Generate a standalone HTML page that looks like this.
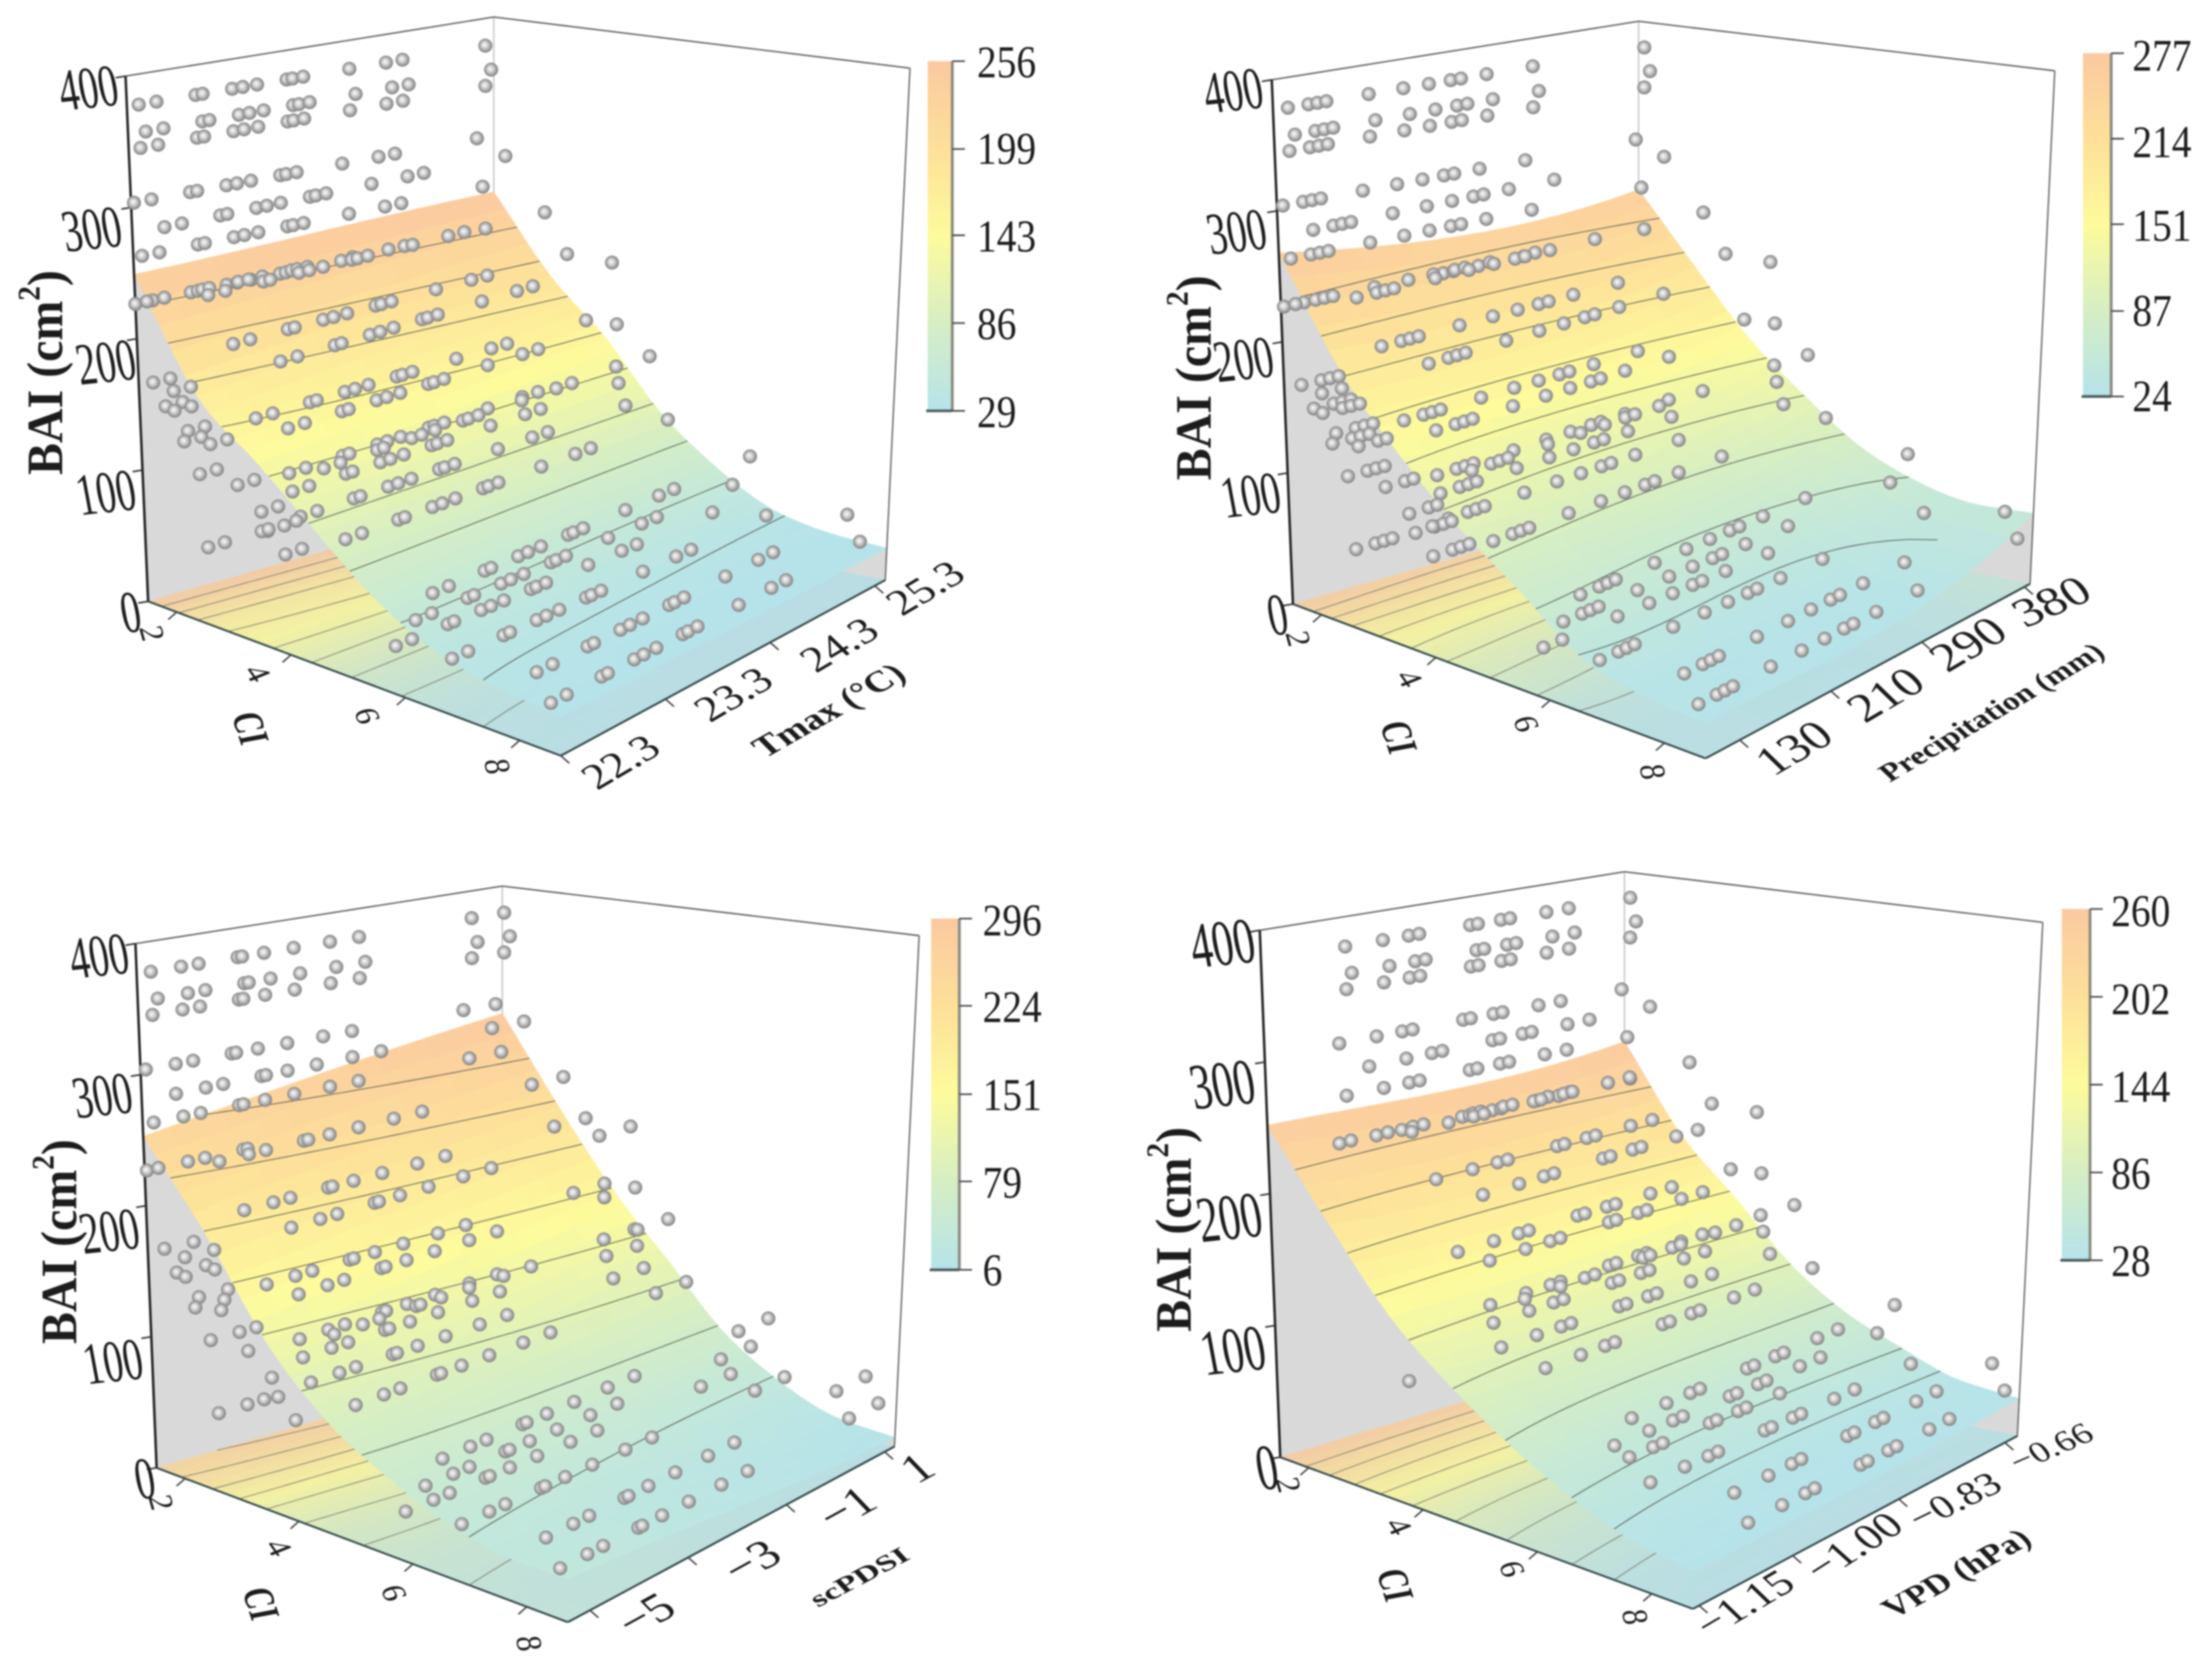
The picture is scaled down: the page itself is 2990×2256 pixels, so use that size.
<!DOCTYPE html>
<html lang="en">
<head>
<meta charset="utf-8">
<title>BAI response surfaces against CI and climate variables</title>
<style>
html,body{margin:0;padding:0;background:#fff;}
svg{display:block;filter:blur(1.1px);}
text{font-family:"Liberation Serif",serif;fill:#1c1c1c;text-anchor:middle;dominant-baseline:central;}
.z{font-size:112px;}
.cb{font-size:86px;text-anchor:start;}
.ct{font-size:64px;}
.ci{font-size:68px;font-weight:bold;}
.xt{font-size:68px;}
.bai{font-size:72px;font-weight:bold;}
.xtitle{font-weight:bold;}
</style>
</head>
<body>
<svg id="figure" xmlns="http://www.w3.org/2000/svg" width="2990" height="2256" viewBox="0 0 2990 2256">
<defs>
<radialGradient id="ball" cx="0.5" cy="0.5" r="0.55" fx="0.42" fy="0.42">
<stop offset="0" stop-color="#fbfbfb"/><stop offset="0.35" stop-color="#d8d8d8"/><stop offset="0.8" stop-color="#909090"/><stop offset="1" stop-color="#7c7c7c"/>
</radialGradient>
<linearGradient id="cbar" x1="0" y1="1" x2="0" y2="0">
<stop offset="0" stop-color="#b6e3ea"/><stop offset="0.25" stop-color="#d6eec4"/><stop offset="0.5" stop-color="#fdfb9c"/><stop offset="0.75" stop-color="#fde09a"/><stop offset="1" stop-color="#fbc9a0"/>
</linearGradient>
</defs>

<g transform="translate(0,0) scale(0.9535,0.7194)">
<g id="plot0"></g>
<text class="z" transform="translate(125,165) rotate(-8) scale(0.5,1)">400</text>
<text class="z" transform="translate(130,430) rotate(-8) scale(0.5,1)">300</text>
<text class="z" transform="translate(150,680) rotate(-8) scale(0.5,1)">200</text>
<text class="z" transform="translate(150,925) rotate(-8) scale(0.5,1)">100</text>
<text class="z" transform="translate(185,1150) rotate(-8) scale(0.5,1)">0</text>
<text class="bai" transform="translate(65,700) rotate(-90) scale(1.25,1)">BAI (cm<tspan font-size="44" dy="-24">2</tspan><tspan dy="24">)</tspan></text>
<text class="ct" transform="translate(215,1190) rotate(78) scale(0.9,0.75)">2</text>
<text class="ct" transform="translate(365,1265) rotate(62) scale(0.9,0.75)">4</text>
<text class="ct" transform="translate(520,1345) rotate(72) scale(0.9,0.75)">6</text>
<text class="ct" transform="translate(705,1440) rotate(82) scale(0.9,0.8)">8</text>
<text class="ci" transform="translate(355,1368) rotate(76) scale(0.8,0.9)">CI</text>
<text class="xt" transform="translate(880,1432) rotate(-38)">22.3</text>
<text class="xt" transform="translate(1040,1305) rotate(-38)">23.3</text>
<text class="xt" transform="translate(1190,1212) rotate(-38)">24.3</text>
<text class="xt" transform="translate(1312,1105) rotate(-38)">25.3</text>
<text class="xtitle" font-size="56" transform="translate(1175,1335) rotate(-37)">Tmax (°C)</text>
<text class="cb" transform="translate(1385,118) scale(0.65,1)">256</text>
<text class="cb" transform="translate(1385,280) scale(0.65,1)">199</text>
<text class="cb" transform="translate(1385,445) scale(0.65,1)">143</text>
<text class="cb" transform="translate(1385,610) scale(0.65,1)">86</text>
<text class="cb" transform="translate(1385,775) scale(0.65,1)">29</text>
</g>

<g transform="translate(1495,0) scale(0.9535,0.7194)">
<g id="plot1"></g>
<text class="z" transform="translate(180,170) rotate(-8) scale(0.5,1)">400</text>
<text class="z" transform="translate(185,435) rotate(-8) scale(0.5,1)">300</text>
<text class="z" transform="translate(195,675) rotate(-8) scale(0.5,1)">200</text>
<text class="z" transform="translate(205,930) rotate(-8) scale(0.5,1)">100</text>
<text class="z" transform="translate(243,1155) rotate(-8) scale(0.5,1)">0</text>
<text class="bai" transform="translate(125,710) rotate(-90) scale(1.25,1)">BAI (cm<tspan font-size="44" dy="-24">2</tspan><tspan dy="24">)</tspan></text>
<text class="ct" transform="translate(272,1200) rotate(78) scale(0.9,0.75)">2</text>
<text class="ct" transform="translate(430,1275) rotate(62) scale(0.9,0.75)">4</text>
<text class="ct" transform="translate(595,1360) rotate(72) scale(0.9,0.75)">6</text>
<text class="ct" transform="translate(775,1450) rotate(82) scale(0.9,0.8)">8</text>
<text class="ci" transform="translate(415,1385) rotate(76) scale(0.8,0.9)">CI</text>
<text class="xt" font-size="76" style="font-size:76px" transform="translate(975,1405) rotate(-38)">130</text>
<text class="xt" style="font-size:76px" transform="translate(1105,1305) rotate(-38)">210</text>
<text class="xt" style="font-size:76px" transform="translate(1222,1210) rotate(-38)">290</text>
<text class="xt" style="font-size:76px" transform="translate(1340,1130) rotate(-30)">380</text>
<text class="xtitle" font-size="48" transform="translate(1255,1338) rotate(-38)">Precipitation (mm)</text>
<text class="cb" transform="translate(1455,105) scale(0.65,1)">277</text>
<text class="cb" transform="translate(1455,268) scale(0.65,1)">214</text>
<text class="cb" transform="translate(1455,425) scale(0.65,1)">151</text>
<text class="cb" transform="translate(1455,585) scale(0.65,1)">87</text>
<text class="cb" transform="translate(1455,745) scale(0.65,1)">24</text>
</g>

<g transform="translate(0,1128) scale(0.9535,0.7194)">
<g id="plot2"></g>
<text class="z" transform="translate(140,228) rotate(-8) scale(0.5,1)">400</text>
<text class="z" transform="translate(145,490) rotate(-8) scale(0.5,1)">300</text>
<text class="z" transform="translate(155,745) rotate(-8) scale(0.5,1)">200</text>
<text class="z" transform="translate(160,990) rotate(-8) scale(0.5,1)">100</text>
<text class="z" transform="translate(205,1210) rotate(-8) scale(0.5,1)">0</text>
<text class="bai" transform="translate(85,765) rotate(-90) scale(1.25,1)">BAI (cm<tspan font-size="44" dy="-24">2</tspan><tspan dy="24">)</tspan></text>
<text class="ct" transform="translate(228,1255) rotate(78) scale(0.9,0.75)">2</text>
<text class="ct" transform="translate(395,1340) rotate(62) scale(0.9,0.75)">4</text>
<text class="ct" transform="translate(558,1425) rotate(72) scale(0.9,0.75)">6</text>
<text class="ct" transform="translate(750,1520) rotate(82) scale(0.9,0.8)">8</text>
<text class="ci" transform="translate(370,1445) rotate(76) scale(0.8,0.9)">CI</text>
<text class="xt" style="font-size:76px" transform="translate(915,1465) rotate(-36)">−5</text>
<text class="xt" style="font-size:76px" transform="translate(1065,1365) rotate(-36)">−3</text>
<text class="xt" style="font-size:76px" transform="translate(1200,1265) rotate(-36)">−1</text>
<text class="xt" style="font-size:76px" transform="translate(1300,1190) rotate(-36)">1</text>
<text class="xtitle" font-size="52" transform="translate(1218,1395) rotate(-35) scale(1,0.8)">scPDSI</text>
<text class="cb" transform="translate(1393,162) scale(0.65,1)">296</text>
<text class="cb" transform="translate(1393,325) scale(0.65,1)">224</text>
<text class="cb" transform="translate(1393,490) scale(0.65,1)">151</text>
<text class="cb" transform="translate(1393,655) scale(0.65,1)">79</text>
<text class="cb" transform="translate(1393,820) scale(0.65,1)">6</text>
</g>

<g transform="translate(1495,1128) scale(0.9535,0.7194)">
<g id="plot3"></g>
<text class="z" style="font-size:122px" transform="translate(165,205) rotate(-8) scale(0.5,1)">400</text>
<text class="z" style="font-size:122px" transform="translate(165,470) rotate(-8) scale(0.5,1)">300</text>
<text class="z" style="font-size:122px" transform="translate(175,720) rotate(-8) scale(0.5,1)">200</text>
<text class="z" style="font-size:122px" transform="translate(180,970) rotate(-8) scale(0.5,1)">100</text>
<text class="z" style="font-size:122px" transform="translate(228,1190) rotate(-8) scale(0.5,1)">0</text>
<text class="bai" transform="translate(97,742) rotate(-90) scale(1.25,1)">BAI (cm<tspan font-size="44" dy="-24">2</tspan><tspan dy="24">)</tspan></text>
<text class="ct" transform="translate(258,1222) rotate(78) scale(0.9,0.75)">2</text>
<text class="ct" transform="translate(415,1300) rotate(62) scale(0.9,0.75)">4</text>
<text class="ct" transform="translate(575,1380) rotate(72) scale(0.9,0.75)">6</text>
<text class="ct" transform="translate(750,1470) rotate(82) scale(0.9,0.8)">8</text>
<text class="ci" transform="translate(410,1410) rotate(76) scale(0.8,0.9)">CI</text>
<text class="xt" transform="translate(905,1445) rotate(-38)">−1.15</text>
<text class="xt" transform="translate(1060,1338) rotate(-40)">−1.00</text>
<text class="xt" style="font-size:62px" transform="translate(1203,1252) rotate(-33)">−0.83</text>
<text class="xt" style="font-size:55px" transform="translate(1340,1152) rotate(-30)">−0.66</text>
<text class="xtitle" font-size="53" transform="translate(1205,1388) rotate(-36)">VPD (hPa)</text>
<text class="cb" transform="translate(1425,145) scale(0.65,1)">260</text>
<text class="cb" transform="translate(1425,310) scale(0.65,1)">202</text>
<text class="cb" transform="translate(1425,475) scale(0.65,1)">144</text>
<text class="cb" transform="translate(1425,638) scale(0.65,1)">86</text>
<text class="cb" transform="translate(1425,802) scale(0.65,1)">28</text>
</g>
</svg>

<script>
// Observation rows: every row is one CI / BAI class measured across the climate years.
const rowCI = [1.6,1.7,1.6,1.45,1.95,1.55,1.4,1.6,2.65,3.05,3.85,1.65,2.0,1.85,2.0,2.22,2.15,2.6,2.4,3.4,3.95,3.95,4.0,4.55,3.05,3.45,4.13,3.55,2.5,3.85,4.9,6.4,6.1,5.75,6.73,8.2,8.45];
const rowBAI = [379,360,346,302,291,263,224,229,250,219,218,168,167,153,152,140,131,136,110,168,169,135,122,148,112,98,105,85,56,72,100,83,58,33,39,52,33];

// Climate value of each year, per panel.
const tmaxValues = [22.35,22.50,22.83,22.89,23.14,23.23,23.35,23.60,23.65,23.74,24.13,24.44,24.58,25.28];
const precipValues = [107,123,130,137,170,197,217,234,242,262,298,385];
const pdsiValues = [-5.30,-4.75,-4.43,-3.72,-3.64,-3.24,-2.70,-2.04,-1.51,0.54,1.13];
const vpdValues = [-1.048,-0.994,-0.957,-0.942,-0.869,-0.858,-0.825,-0.812,-0.760,-0.728,-0.640];

// Fitted surface heights: rows follow surfaceCI, columns run low to high across the climate axis.
const surfaceCI = [1.5,2.5,3.5,4.5,5.5,6.5,7.5,8.72];
const tmaxSurface = [[249,251,254,256],[172,180,187,195],[137,142,147,152],[100,100,100,100],[66,66,65,65],[44,43,41,40],[34,32,31,29],[29,28,26,25]];
const precipSurface = [[268,256,252,261],[192,190,192,205],[143,137,140,153],[104,100,100,115],[74,68,68,83],[42,44,44,64],[30,28,32,54],[26,25,28,55]];
const pdsiSurface = [[253,267,281,294],[195,205,214,224],[128,139,151,162],[85,94,104,113],[60,62,63,65],[42,40,37,35],[32,26,20,15],[32,24,14,7]];
const vpdSurface = [[252,250,250,259],[192,186,186,190],[138,136,138,145],[102,96,96,100],[74,68,68,70],[52,48,48,51],[36,33,33,35],[28,27,27,29]];

// Contour levels per panel.
const tmaxLevels = [230,205,180,155,130,105,80,55,35];
const precipLevels = [240,215,190,165,140,115,90,65,42];
const pdsiLevels = [260,228,196,164,132,100,68,36];
const vpdLevels = [225,200,175,150,125,100,75,50,38];

// Colour bar ticks per panel.
const tmaxBar = [29,86,143,199,256];
const precipBar = [24,87,151,214,277];
const pdsiBar = [6,79,151,224,296];
const vpdBar = [28,86,144,202,260];

// Axis ticks.
const baiTicks = [0,100,200,300,400];
const ciTicks = [2,4,6,8];
const tmaxTicks = [22.3,23.3,24.3,25.3];
const precipTicks = [130,210,290,380];
const pdsiTicks = [-5,-3,-1,1];
const vpdTicks = [-1.15,-1.00,-0.83,-0.66];

const CI_MIN = 1.5, CI_MAX = 8.72, BAI_MAX = 400;
const SVGNS = "http://www.w3.org/2000/svg";

const panels = [
 {xDomain:[22.3,25.4],values:tmaxValues,surface:tmaxSurface,levels:tmaxLevels,bar:tmaxBar,xTicks:tmaxTicks,
  L:[210,1130],F:[795,1420],R:[1255,1090],B:[700,945],TL:[178,143],TF:[801,410],TR:[1290,128],TB:[700,32],barBox:[1315,1350,115,772]},
 {xDomain:[100,385],values:precipValues,surface:precipSurface,levels:precipLevels,bar:precipBar,xTicks:precipTicks,
  L:[265,1135],F:[850,1425],R:[1310,1097],B:[755,950],TL:[235,150],TF:[856,415],TR:[1345,133],TB:[755,40],barBox:[1385,1425,100,745]},
 {xDomain:[-5.45,1.2],values:pdsiValues,surface:pdsiSurface,levels:pdsiLevels,bar:pdsiBar,xTicks:pdsiTicks,
  L:[222,1190],F:[805,1480],R:[1268,1150],B:[712,1000],TL:[192,205],TF:[811,470],TR:[1303,190],TB:[712,97],barBox:[1320,1360,158,818]},
 {xDomain:[-1.16,-0.64],values:vpdValues,surface:vpdSurface,levels:vpdLevels,bar:vpdBar,xTicks:vpdTicks,
  L:[247,1170],F:[832,1455],R:[1292,1130],B:[735,975],TL:[218,180],TF:[838,445],TR:[1328,165],TB:[735,70],barBox:[1355,1395,140,800]}
];

function lerp(a,b,f){return a+(b-a)*f;}
function ciScale(ci){return (ci-CI_MIN)/(CI_MAX-CI_MIN);}
function xScale(p,x){return (x-p.xDomain[0])/(p.xDomain[1]-p.xDomain[0]);}
function bilinear(a,f,r,b,u,t){
  return [lerp(lerp(a[0],f[0],u),lerp(b[0],r[0],u),t),lerp(lerp(a[1],f[1],u),lerp(b[1],r[1],u),t)];
}
function project(p,u,t,bai){
  const lo=bilinear(p.L,p.F,p.R,p.B,u,t), hi=bilinear(p.TL,p.TF,p.TR,p.TB,u,t), w=bai/BAI_MAX;
  return [lerp(lo[0],hi[0],w),lerp(lo[1],hi[1],w)];
}
function acrossClimate(row,t){
  const a=1/3,b=2/3;
  const l0=(t-a)*(t-b)*(t-1)/((-a)*(-b)*(-1));
  const l1=t*(t-b)*(t-1)/(a*(a-b)*(a-1));
  const l2=t*(t-a)*(t-1)/(b*(b-a)*(b-1));
  const l3=t*(t-a)*(t-b)/((1-a)*(1-b));
  return row[0]*l0+row[1]*l1+row[2]*l2+row[3]*l3;
}
function surfaceAt(p,ci,t){
  const tt=Math.max(0,Math.min(1,t));
  const n=surfaceCI.length;
  let k=0;
  while(k<n-2&&ci>=surfaceCI[k+1])k++;
  const f=Math.max(0,Math.min(1,(ci-surfaceCI[k])/(surfaceCI[k+1]-surfaceCI[k])));
  const v1=acrossClimate(p.surface[k],tt), v2=acrossClimate(p.surface[k+1],tt);
  const v0=k>0?acrossClimate(p.surface[k-1],tt):2*v1-v2;
  const v3=k<n-2?acrossClimate(p.surface[k+2],tt):2*v2-v1;
  const f2=f*f,f3=f2*f;
  return 0.5*(2*v1+(v2-v0)*f+(2*v0-5*v1+4*v2-v3)*f2+(3*v1-v0-3*v2+v3)*f3);
}
const rampStops=[[182,227,234],[214,238,196],[253,251,156],[253,224,154],[251,201,160]];
function ramp(f){
  const c=Math.max(0,Math.min(0.9999,f))*4,i=Math.floor(c),g=c-i;
  return [0,1,2].map(function(j){return lerp(rampStops[i][j],rampStops[i+1][j],g);});
}
function css(c){return "rgb("+Math.round(c[0])+","+Math.round(c[1])+","+Math.round(c[2])+")";}
function make(parent,tag,attrs){
  const el=document.createElementNS(SVGNS,tag);
  for(const key in attrs)el.setAttribute(key,attrs[key]);
  parent.appendChild(el);
  return el;
}
function pts(list){return list.map(function(q){return q[0].toFixed(1)+","+q[1].toFixed(1);}).join(" ");}
function inside(poly,q){
  let hit=false;
  for(let i=0,j=poly.length-1;i<poly.length;j=i++){
    const a=poly[i],b=poly[j];
    if((a[1]>q[1])!==(b[1]>q[1])&&q[0]<(b[0]-a[0])*(q[1]-a[1])/(b[1]-a[1])+a[0])hit=!hit;
  }
  return hit;
}
function ciOf(u){return lerp(CI_MIN,CI_MAX,u);}

function drawPanel(p,root){
  const NU=36,NT=14;
  const barMin=p.bar[0],barMax=p.bar[p.bar.length-1];

  function edge(a,b,color,width,name){
    const ln=make(root,"line",{x1:a[0],y1:a[1],x2:b[0],y2:b[1],stroke:color,"stroke-width":width});
    
    
  }

  // back vertical edge is hidden behind the surface, so it goes first
  edge(p.B,p.TB,"#c4c4c4",2,"back-vertical-edge");

  // gray side walls under the surface
  const backWall=[];
  for(let i=0;i<=NT;i++){backWall.push(project(p,0,i/NT,surfaceAt(p,CI_MIN,i/NT)));}
  for(let i=NT;i>=0;i--){backWall.push(project(p,0,i/NT,0));}
  const wallA=make(root,"polygon",{points:pts(backWall),fill:"#d9d9d9"});
  
  
  const sideWall=[];
  for(let i=0;i<=NU;i++){sideWall.push(project(p,i/NU,1,surfaceAt(p,ciOf(i/NU),1)));}
  for(let i=NU;i>=0;i--){sideWall.push(project(p,i/NU,1,0));}
  const wallB=make(root,"polygon",{points:pts(sideWall),fill:"#d9d9d9"});
  
  

  // floor projection
  const floorGroup=make(root,"g",{});
  
  
  for(let i=0;i<NU;i++)for(let j=0;j<NT;j++){
    const um=(i+0.5)/NU,tm=(j+0.5)/NT;
    const base=ramp((surfaceAt(p,ciOf(um),tm)-barMin)/(barMax-barMin));
    const c=css(base.map(function(v){return v*0.82+196*0.18;}));
    const cell=make(floorGroup,"polygon",{points:pts([project(p,i/NU,j/NT,0),project(p,(i+1)/NU,j/NT,0),project(p,(i+1)/NU,(j+1)/NT,0),project(p,i/NU,(j+1)/NT,0)]),fill:c,stroke:c,"stroke-width":"0.8"});
    
    
  }

  // surface
  const surfGroup=make(root,"g",{});
  
  
  for(let i=0;i<NU;i++)for(let j=0;j<NT;j++){
    const u0=i/NU,u1=(i+1)/NU,t0=j/NT,t1=(j+1)/NT;
    const um=(i+0.5)/NU,tm=(j+0.5)/NT;
    const c=css(ramp((surfaceAt(p,ciOf(um),tm)-barMin)/(barMax-barMin)));
    const cell=make(surfGroup,"polygon",{points:pts([
      project(p,u0,t0,surfaceAt(p,ciOf(u0),t0)),
      project(p,u1,t0,surfaceAt(p,ciOf(u1),t0)),
      project(p,u1,t1,surfaceAt(p,ciOf(u1),t1)),
      project(p,u0,t1,surfaceAt(p,ciOf(u0),t1))]),fill:c,stroke:c,"stroke-width":"0.8"});
    
    
  }

  // contours on surface and floor
  p.levels.forEach(function(level){
    let top="",bottom="",pen=false;
    for(let j=0;j<=40;j++){
      const t=j/40;
      let found=-1;
      for(let i=0;i<200;i++){
        const a=surfaceAt(p,ciOf(i/200),t),b=surfaceAt(p,ciOf((i+1)/200),t);
        if(a>=level&&b<level){found=(i+(a-level)/(a-b))/200;break;}
      }
      if(found<0){pen=false;continue;}
      const s=project(p,found,t,level),f=project(p,found,t,0);
      top+=(pen?"L":"M")+s[0].toFixed(1)+" "+s[1].toFixed(1);
      bottom+=(pen?"L":"M")+f[0].toFixed(1)+" "+f[1].toFixed(1);
      pen=true;
    }
    const onFloor=make(floorGroup,"path",{d:bottom,fill:"none",stroke:"#77776a","stroke-width":"1.4"});
    
    
    const onSurf=make(root,"path",{d:top,fill:"none",stroke:"#55594f","stroke-width":"1.5"});
    
    
  });

  // frame
  edge(p.TL,p.TB,"#555",2.5,"top-left-edge");
  edge(p.TB,p.TR,"#555",2.5,"top-right-edge");
  edge(p.R,p.TR,"#666",2,"right-vertical-edge");
  edge(p.L,p.TL,"#222",3.5,"bai-axis-line");
  edge(p.L,p.F,"#33494b",3.5,"ci-axis-line");
  edge(p.F,p.R,"#33494b",3.5,"climate-axis-line");

  baiTicks.forEach(function(v){
    const a=project(p,0,0,v);
    edge(a,[a[0]-14,a[1]+3],"#333",3,"bai-axis-tick");
  });
  ciTicks.forEach(function(v){
    const a=project(p,ciScale(v),0,0);
    edge(a,[a[0]-12,a[1]+14],"#444",2.5,"ci-axis-tick");
  });
  p.xTicks.forEach(function(v){
    const a=project(p,1,xScale(p,v),0);
    edge(a,[a[0]+12,a[1]+14],"#444",2.5,"climate-axis-tick");
  });

  // outline of the surface on screen, to hide points sitting beneath it
  const outline=[];
  for(let i=0;i<=NU;i++)outline.push(project(p,i/NU,0,surfaceAt(p,ciOf(i/NU),0)));
  for(let j=1;j<=NT;j++)outline.push(project(p,1,j/NT,surfaceAt(p,CI_MAX,j/NT)));
  for(let i=NU-1;i>=0;i--)outline.push(project(p,i/NU,1,surfaceAt(p,ciOf(i/NU),1)));
  for(let j=NT-1;j>0;j--)outline.push(project(p,0,j/NT,surfaceAt(p,CI_MIN,j/NT)));

  // scatter: ellipses in this stretched panel space render as round balls
  const dots=make(root,"g",{});
  
  
  rowCI.forEach(function(ci,r){
    const bai=rowBAI[r],u=ciScale(ci);
    p.values.forEach(function(x){
      const t=xScale(p,x),q=project(p,u,t,bai);
      if(bai<surfaceAt(p,ci,t)-30&&inside(outline,q))return;
      const dot=make(dots,"ellipse",{cx:q[0].toFixed(1),cy:q[1].toFixed(1),rx:"10",ry:"13.2",fill:"url(#ball)"});
      
      
    });
  });

  // colour bar
  const box=p.barBox;
  const barRect=make(root,"rect",{x:box[0],y:box[2],width:box[1]-box[0],height:box[3]-box[2],fill:"url(#cbar)"});
  
  
  edge([box[1],box[2]],[box[1],box[3]],"#8a8a80",4,"colorbar-axis");
  edge([box[0]-2,box[3]],[box[1],box[3]],"#4a5a5a",5,"colorbar-base");
  p.bar.forEach(function(v){
    const y=lerp(box[3],box[2],(v-barMin)/(barMax-barMin));
    edge([box[1],y],[box[1]+18,y],"#444",3,"colorbar-tick");
  });
}
panels.forEach(function(p,i){drawPanel(p,document.getElementById("plot"+i));});
</script>
</body>
</html>
